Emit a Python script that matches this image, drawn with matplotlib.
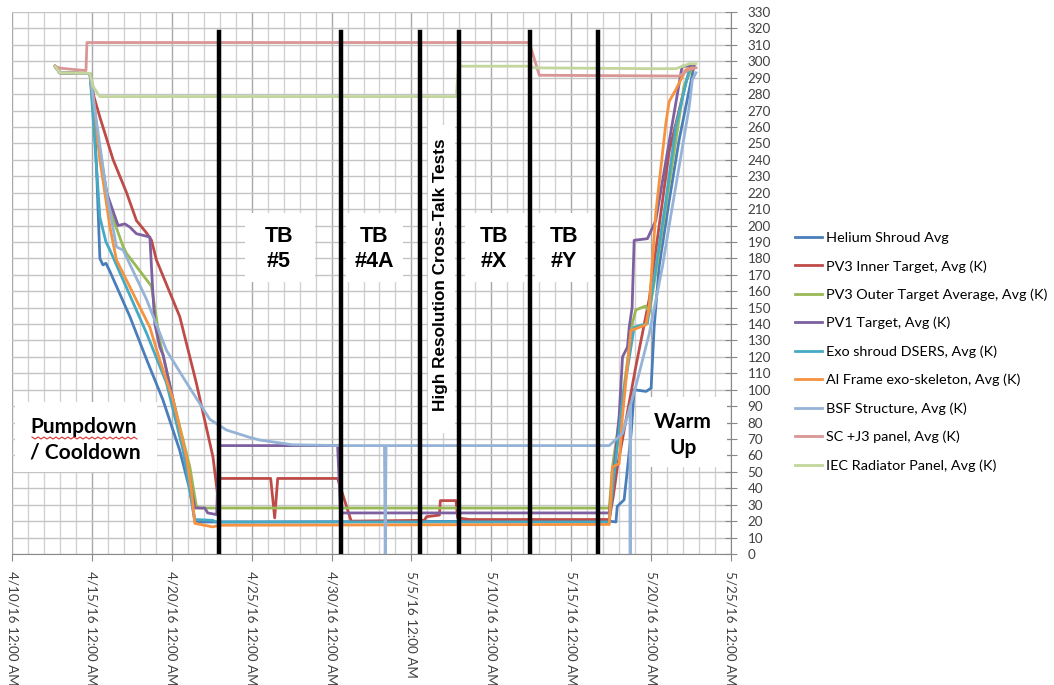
import numpy as np
import pandas as pd
import matplotlib
matplotlib.use('Agg')
import matplotlib.pyplot as plt
import matplotlib.dates as mdates
from matplotlib.patches import Rectangle

plt.rcParams['font.family'] = ['Lato', 'DejaVu Sans']

start = pd.Timestamp('2016-04-10')

# time in days after 4/10/16 12:00 AM, temperatures in K
helium_t = [2.69, 3.0, 4.88, 5.06, 5.31, 5.5, 5.69, 5.88, 6.13, 7.38, 8.44, 9.44, 10.5, 11.13, 11.44, 11.75,
            15.0, 25.0, 37.4, 37.8, 37.88, 38.31, 38.5, 38.75, 38.94, 39.69, 40.0, 40.19, 40.5, 41.13, 41.75,
            42.56, 42.69]
helium_k = [297, 293, 292.5, 285, 230, 180, 176, 177, 172, 144.5, 118, 94, 63, 39, 20, 19.5,
            19.5, 19.8, 20, 19.5, 29, 33, 50, 73.5, 100, 99, 101, 138, 175, 215, 252,
            291, 298]

pv3_inner_t = [2.69, 3.0, 4.88, 5.08, 5.5, 6.33, 7.17, 7.79, 8.42, 8.73, 9.04, 10.5, 11.54, 12.58, 12.88,
               13.0, 16.19, 16.44, 16.63, 20.38, 21.23, 25.81, 25.94, 26.75, 26.81, 27.79, 27.89, 28.63,
               37.38, 37.63, 37.89, 39.04, 39.88, 41.13, 42.17, 42.38, 42.69]
pv3_inner_k = [297, 293, 292.5, 280, 266, 240, 220, 203, 195.5, 191, 179, 144.5, 104, 59, 35,
               46, 46, 22, 46, 46, 20, 20.5, 22.7, 23.7, 32.5, 32.5, 22, 21,
               21, 35, 53, 114, 155, 245, 287, 293, 296]

pv3_outer_t = [2.69, 3.0, 4.88, 5.19, 6.13, 6.96, 7.17, 8.42, 8.73, 9.25, 10.08, 11.13, 11.54, 11.75,
               37.38, 37.58, 38.31, 38.83, 39.04, 39.67, 39.88, 40.19, 41.13, 42.06, 42.56]
pv3_outer_k = [297, 293, 292.5, 260, 209.5, 187, 183, 167, 163, 130, 94, 53, 29, 28,
               28, 53, 102, 140.5, 148.6, 151, 147, 165, 225, 285, 296]

pv1_t = [2.69, 3.0, 4.88, 5.19, 5.92, 6.64, 7.06, 7.38, 7.79, 8.63, 8.81, 8.94, 9.25, 9.46, 10.08, 11.13,
         11.44, 12.06, 12.25, 12.81, 12.94, 20.38, 20.56, 37.38, 37.56, 38.0, 38.21, 38.52, 38.63, 38.81,
         38.94, 39.77, 40.29, 41.94, 42.69]
pv1_k = [297, 293, 292.5, 265, 220, 200, 201, 199, 195, 193, 160, 140, 126, 121, 94, 45,
         28, 28, 25, 24, 66, 66, 25, 25, 40, 84, 120, 126, 138, 150,
         191, 192, 203, 297, 297]

exo_t = [2.69, 3.0, 4.88, 5.19, 5.5, 5.88, 6.13, 8.42, 9.67, 10.71, 11.23, 11.44, 12.56, 12.75,
         37.38, 37.56, 38.21, 38.94, 39.77, 40.92, 41.54, 42.38, 42.6]
exo_k = [297, 293, 292.5, 250, 205, 190, 185, 134.5, 104, 63, 33, 21, 20.5, 19.5,
         19.5, 37, 94, 138, 140.5, 215, 260, 294.8, 296]

al_frame_t = [2.69, 3.0, 4.88, 5.19, 5.5, 6.13, 6.54, 8.63, 9.25, 10.08, 10.92, 11.23, 11.44, 12.56, 13.0,
              37.38, 37.58, 38.0, 38.21, 38.73, 39.67, 39.88, 40.29, 40.92, 41.13, 41.54, 42.17, 42.56]
al_frame_k = [297, 293, 292.5, 270, 240, 199, 179, 138, 118, 94, 59, 39, 18.7, 16.5, 17.5,
              18, 53, 55, 84, 136, 139.5, 150, 207.5, 262, 275.5, 282.6, 294.8, 296]

bsf_t = [2.69, 3.0, 4.88, 5.19, 5.92, 6.54, 6.96, 8.42, 9.67, 10.81, 11.33, 12.38, 13.42, 14.88, 15.5,
         17.56, 20.5, 23.31, 23.36, 23.41, 37.38, 38.21, 38.69, 38.69, 38.69, 39.04, 39.88, 40.71, 41.13,
         42.38, 42.58, 42.81]
bsf_k = [297, 293, 292.5, 270, 220, 187, 185, 155, 124, 106, 98, 82, 75.5, 71, 69.4,
         66.5, 66, 66, 0, 66, 66, 73.5, 90, 0, 90, 102, 134, 175, 200,
         272, 288.7, 293]

sc_j3_t = [2.69, 3.0, 4.63, 4.69, 32.38, 33.0, 41.75, 42.38, 42.81]
sc_j3_k = [297, 295.8, 294.3, 311.4, 311.4, 291.5, 291, 295, 296]

iec_t = [2.69, 3.0, 4.88, 5.08, 5.5, 27.81, 27.94, 32.44, 32.69, 40.0, 41.56, 42.4, 42.81]
iec_k = [297, 293, 292.7, 284.6, 278.5, 278.5, 297, 297, 296, 295.5, 295.5, 298.5, 298.5]

series_names = ['Helium Shroud Avg', 'PV3 Inner Target, Avg (K)', 'PV3 Outer Target Average, Avg (K)',
                'PV1 Target, Avg (K)', 'Exo shroud DSERS, Avg (K)', 'Al Frame exo-skeleton, Avg (K)',
                'BSF Structure, Avg (K)', 'SC +J3 panel, Avg (K)', 'IEC Radiator Panel, Avg (K)']
series_colors = ['#4A7EBB', '#BE4B48', '#98B954', '#7D60A0', '#46AAC5', '#F69240',
                 '#95B3D7', '#D99694', '#C3D69B']
series_t = [helium_t, pv3_inner_t, pv3_outer_t, pv1_t, exo_t, al_frame_t, bsf_t, sc_j3_t, iec_t]
series_k = [helium_k, pv3_inner_k, pv3_outer_k, pv1_k, exo_k, al_frame_k, bsf_k, sc_j3_k, iec_k]

# test boundaries (black lines), days after 4/10
test_marks = [12.94, 20.56, 25.56, 28.0, 32.44, 36.69]
test_mark_top = 318

tick_days = [0, 5, 10, 15, 20, 25, 30, 35, 40, 45]
tick_labels = ['4/10/16 12:00 AM', '4/15/16 12:00 AM', '4/20/16 12:00 AM', '4/25/16 12:00 AM',
               '4/30/16 12:00 AM', '5/5/16 12:00 AM', '5/10/16 12:00 AM', '5/15/16 12:00 AM',
               '5/20/16 12:00 AM', '5/25/16 12:00 AM']


def to_dates(days):
    return start + pd.to_timedelta(np.array(days, dtype=float), unit='D')


fig = plt.figure(figsize=(10.54, 6.85), dpi=100)
# plot area in pixels: x 12..731, y 12..554
ax = fig.add_axes([12 / 1054, 1 - 554 / 685, 719 / 1054, 542 / 685])

for t, k, name, c in zip(series_t, series_k, series_names, series_colors):
    ax.plot(to_dates(t), k, color=c, lw=2.0, label=name, zorder=4, solid_joinstyle='round')

for d in to_dates(test_marks):
    ax.plot([d, d], [0, test_mark_top], color='black', lw=3.2, zorder=5)

ax.set_xlim(to_dates([0])[0], to_dates([45])[0])
ax.set_ylim(0, 330)

ax.xaxis.set_major_locator(matplotlib.ticker.FixedLocator(mdates.date2num(to_dates(tick_days))))
ax.xaxis.set_minor_locator(mdates.DayLocator())
ax.set_xticklabels(tick_labels, rotation=-90, fontsize=9.7, color='#404040', va='top', ha='center')
ax.tick_params(axis='x', which='major', length=5, color='#888888', pad=7)
ax.tick_params(axis='x', which='minor', length=0)

ax.yaxis.tick_right()
ax.set_yticks(range(0, 331, 10))
ax.tick_params(axis='y', which='major', direction='inout', length=8, color='#888888',
               labelsize=9.7, labelcolor='#404040', pad=8)

ax.grid(True, axis='y', which='major', color='#C4C4C4', lw=1.0, zorder=0)
ax.grid(True, axis='x', which='minor', color='#D2D2D2', lw=1.0, zorder=0)
ax.grid(True, axis='x', which='major', color='#A8A8A8', lw=1.0, zorder=0)
ax.set_axisbelow(True)

for s in ['top', 'left']:
    ax.spines[s].set_visible(False)
ax.spines['right'].set_color('#888888')
ax.spines['bottom'].set_color('#888888')


def px_box(x0, y0, x1, y1):
    return Rectangle(((x0 - 12) / 719, (554 - y1) / 542), (x1 - x0) / 719, (y1 - y0) / 542,
                     transform=ax.transAxes, facecolor='white', edgecolor='none', zorder=2)


def px_text(x, y, s, **kw):
    ax.text((x - 12) / 719, (554 - y) / 542, s, transform=ax.transAxes, zorder=3,
            ha='center', va='center', **kw)


for box in [(245, 213, 315, 282), (346, 213, 403, 282), (465, 213, 525, 282), (535, 213, 594, 282),
            (428, 125, 455, 433), (15, 402, 157, 472), (650, 397, 727, 467)]:
    ax.add_patch(px_box(*box))

tb_font = dict(family=['Liberation Sans', 'DejaVu Sans'], fontsize=15.5, fontweight='bold', linespacing=1.3)
px_text(279, 249, 'TB\n#5', **tb_font)
px_text(374, 249, 'TB\n#4A', **tb_font)
px_text(494, 249, 'TB\n#X', **tb_font)
px_text(564, 249, 'TB\n#Y', **tb_font)
px_text(441, 275, 'High Resolution Cross-Talk Tests', rotation=90, fontsize=12.3, fontweight='bold',
        family=['Liberation Sans', 'DejaVu Sans'])
ax.text((30 - 12) / 719, (554 - 440) / 542, 'Pumpdown\n/ Cooldown', transform=ax.transAxes, zorder=3,
        ha='left', va='center', fontsize=15, fontweight='bold', linespacing=1.35)
px_text(683, 435, 'Warm\nUp', fontsize=15, fontweight='bold', linespacing=1.35)

# red spell-check squiggle under "Pumpdown"
sq_x = np.arange(32, 138, 3)
sq_y = np.where(np.arange(len(sq_x)) % 2 == 0, 437, 439)
ax.plot((sq_x - 12) / 719, (554 - sq_y) / 542, transform=ax.transAxes, color='#E03030', lw=0.8, zorder=3)

fig.legend(loc='upper left', bbox_to_anchor=(795 / 1054, 1 - 232 / 685), frameon=False,
           fontsize=10.4, handlelength=1.9, handletextpad=0.25, labelspacing=1.1, borderpad=0,
           borderaxespad=0)

plt.savefig('out.png', dpi=100)
